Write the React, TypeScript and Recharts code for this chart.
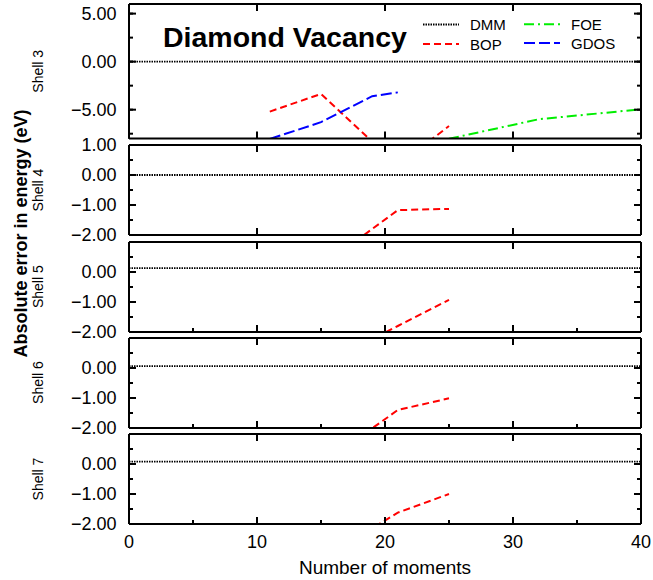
import React from 'react';
import { LineChart, Line, XAxis, YAxis } from 'recharts';

const FONT = '"Liberation Sans", Arial, Helvetica, sans-serif';
const CHART_W = 653;
const PLOT_LEFT = 129;
const PLOT_RIGHT = 641;
const PLOT_W = PLOT_RIGHT - PLOT_LEFT;
const PAD = 14;
const MINOR = 4;
const MAJOR = 7;

// Number of moments at which each method was evaluated
const dmmMoments = [0, 40];
const bopMomentsShell3 = [11, 15, 21, 25];
const gdosMoments = [11, 15, 19, 21];
const foeMoments = [25, 32, 40];
const bopMoments = [17, 21, 25];

// Absolute error in energy (eV)
const dmmErrors = [0, 0, 0.13, 0.06, 0.08]; // shells 3..7
const shell3Bop = [-5.2, -3.36, -10.8, -6.7];
const shell3Gdos = [-8.05, -6.3, -3.6, -3.2];
const shell3Foe = [-8.03, -6.0, -4.96];
const shell4Bop = [-2.43, -1.17, -1.13];
const shell5Bop = [-2.67, -1.8, -0.93];
const shell6Bop = [-2.62, -1.4, -1.01];
const shell7Bop = [-2.67, -1.62, -1.0];

const shellNames = ['Shell 3', 'Shell 4', 'Shell 5', 'Shell 6', 'Shell 7'];

// Axis ticks
const xTicksCoarse = [0, 10, 20, 30, 40];
const xTicksFine = [0, 5, 10, 15, 20, 25, 30, 35, 40];
const xTickLabels = [0, 10, 20, 30, 40];
const shell3YTicks = [-7.5, -5, -2.5, 0, 2.5, 5];
const shell3YLabels = [-5, 0, 5];
const shellYTicks = [-2, -1.5, -1, -0.5, 0, 0.5, 1];
const shell4YLabels = [-2, -1, 0, 1];
const shellYLabels = [-2, -1, 0];

type Style = { stroke: string; dash: string; width: number };
const DMM: Style = { stroke: '#000000', dash: '1.5 1', width: 1.8 };
const BOP: Style = { stroke: '#ff0000', dash: '7 4', width: 2 };
const FOE: Style = { stroke: '#00ee00', dash: '10 4 2 4', width: 2 };
const GDOS: Style = { stroke: '#0000ff', dash: '11 4', width: 2 };

const toPoints = (xs: number[], ys: number[]) => xs.map((m, i) => ({ m, v: ys[i] }));

type Series = { name: string; data: { m: number; v: number }[]; style: Style };
type PanelCfg = {
  name: string;
  top: number;
  height: number;
  domain: [number, number];
  yTicks: number[];
  yLabels: number[];
  yMajor: number;
  xTicks: number[];
  showX: boolean;
  series: Series[];
};

const dmmSeries = (i: number): Series => ({
  name: 'DMM',
  data: toPoints(dmmMoments, [dmmErrors[i], dmmErrors[i]]),
  style: DMM,
});

const panels: PanelCfg[] = [
  {
    name: shellNames[0], top: 4, height: 134.5, domain: [-8, 6],
    yTicks: shell3YTicks, yLabels: shell3YLabels, yMajor: 5, xTicks: xTicksCoarse, showX: false,
    series: [
      dmmSeries(0),
      { name: 'BOP', data: toPoints(bopMomentsShell3, shell3Bop), style: BOP },
      { name: 'FOE', data: toPoints(foeMoments, shell3Foe), style: FOE },
      { name: 'GDOS', data: toPoints(gdosMoments, shell3Gdos), style: GDOS },
    ],
  },
  {
    name: shellNames[1], top: 145, height: 90, domain: [-2, 1],
    yTicks: shellYTicks, yLabels: shell4YLabels, yMajor: 1, xTicks: xTicksCoarse, showX: false,
    series: [dmmSeries(1), { name: 'BOP', data: toPoints(bopMoments, shell4Bop), style: BOP }],
  },
  {
    name: shellNames[2], top: 241.7, height: 90, domain: [-2, 1],
    yTicks: shellYTicks, yLabels: shellYLabels, yMajor: 1, xTicks: xTicksFine, showX: false,
    series: [dmmSeries(2), { name: 'BOP', data: toPoints(bopMoments, shell5Bop), style: BOP }],
  },
  {
    name: shellNames[3], top: 337.5, height: 90, domain: [-2, 1],
    yTicks: shellYTicks, yLabels: shellYLabels, yMajor: 1, xTicks: xTicksFine, showX: false,
    series: [dmmSeries(3), { name: 'BOP', data: toPoints(bopMoments, shell6Bop), style: BOP }],
  },
  {
    name: shellNames[4], top: 434, height: 90, domain: [-2, 1],
    yTicks: shellYTicks, yLabels: shellYLabels, yMajor: 1, xTicks: xTicksFine, showX: true,
    series: [dmmSeries(4), { name: 'BOP', data: toPoints(bopMoments, shell7Bop), style: BOP }],
  },
];

const fmtY = (v: number) => {
  const s = Math.abs(v).toFixed(2);
  return v < 0 ? '\u2212' + s : s;
};

const isMajor = (v: number, step: number) => Math.abs(v / step - Math.round(v / step)) < 1e-6;

const frameLine = { stroke: '#000000', strokeWidth: 2 };

// Labels plus the longer major tick marks on both sides of the frame
function renderYTick(props: any, cfg: PanelCfg) {
  const x = Number(props.x);
  const y = Number(props.y);
  const v = Number(props.payload.value);
  const major = isMajor(v, cfg.yMajor);
  return (
    <g>
      {major && (
        <g>
          <line x1={x} y1={y} x2={x + MAJOR} y2={y} stroke="#000000" strokeWidth={2} />
          <line x1={x + PLOT_W} y1={y} x2={x + PLOT_W - MAJOR} y2={y} stroke="#000000" strokeWidth={2} />
        </g>
      )}
      {cfg.yLabels.includes(v) && (
        <text x={x - 12.5} y={y} textAnchor="end" dominantBaseline="central" fontFamily={FONT} fontSize={18} fill="#000">
          {fmtY(v)}
        </text>
      )}
    </g>
  );
}

function renderXTick(props: any, cfg: PanelCfg) {
  const x = Number(props.x);
  const y = Number(props.y);
  const v = Number(props.payload.value);
  const major = isMajor(v, 10);
  const topY = y - cfg.height;
  return (
    <g>
      {major && (
        <g>
          <line x1={x} y1={y} x2={x} y2={y - MAJOR} stroke="#000000" strokeWidth={2} />
          <line x1={x} y1={topY} x2={x} y2={topY + MAJOR} stroke="#000000" strokeWidth={2} />
        </g>
      )}
      {cfg.showX && xTickLabels.includes(v) && (
        <text x={x} y={y + 23.5} textAnchor="middle" fontFamily={FONT} fontSize={18} fill="#000">
          {String(v)}
        </text>
      )}
    </g>
  );
}

const noLabel = () => <g />;

function Panel({ cfg }: { cfg: PanelCfg }) {
  return (
    <div style={{ position: 'absolute', left: 0, top: cfg.top - PAD }}>
      <LineChart
        width={CHART_W}
        height={cfg.height + 2 * PAD}
        margin={{ top: PAD - 1, right: CHART_W - PLOT_RIGHT - 1, bottom: PAD - 1, left: PLOT_LEFT - 1 }}
      >
        <XAxis
          xAxisId="bottom"
          type="number"
          dataKey="m"
          domain={[0, 40]}
          ticks={cfg.xTicks}
          interval={0}
          height={1}
          tickSize={-MINOR}
          tickMargin={MINOR}
          tickLine={frameLine}
          axisLine={frameLine}
          allowDataOverflow
          tick={(p: any) => renderXTick(p, cfg)}
        />
        <XAxis
          xAxisId="top"
          orientation="top"
          type="number"
          domain={[0, 40]}
          ticks={cfg.xTicks}
          interval={0}
          height={1}
          tickSize={-MINOR}
          tickLine={frameLine}
          tick={noLabel}
          axisLine={frameLine}
          allowDataOverflow
        />
        <YAxis
          yAxisId="left"
          type="number"
          domain={cfg.domain}
          ticks={cfg.yTicks}
          interval={0}
          width={1}
          tickSize={-MINOR}
          tickMargin={MINOR}
          tickLine={frameLine}
          axisLine={frameLine}
          allowDataOverflow
          tick={(p: any) => renderYTick(p, cfg)}
        />
        <YAxis
          yAxisId="right"
          orientation="right"
          type="number"
          domain={cfg.domain}
          ticks={cfg.yTicks}
          interval={0}
          width={1}
          tickSize={-MINOR}
          tickLine={frameLine}
          tick={noLabel}
          axisLine={frameLine}
          allowDataOverflow
        />
        {cfg.series.map((s) => (
          <Line
            key={s.name}
            xAxisId="bottom"
            yAxisId="left"
            name={s.name}
            data={s.data}
            dataKey="v"
            type="linear"
            stroke={s.style.stroke}
            strokeWidth={s.style.width}
            strokeDasharray={s.style.dash}
            dot={false}
            activeDot={false}
            isAnimationActive={false}
          />
        ))}
      </LineChart>
    </div>
  );
}

const legendItems = [
  { name: 'DMM', style: DMM, x: 423, y: 24.5 },
  { name: 'BOP', style: BOP, x: 423, y: 44 },
  { name: 'FOE', style: FOE, x: 524, y: 24.3 },
  { name: 'GDOS', style: GDOS, x: 524, y: 43 },
];

export default function App() {
  return (
    <div style={{ position: 'absolute', left: 0, top: 0, width: CHART_W, height: 580, background: '#fff', fontFamily: FONT }}>
      <style>{'.recharts-surface{overflow:visible}'}</style>
      {panels.map((cfg) => (
        <Panel key={cfg.name} cfg={cfg} />
      ))}
      <svg width={CHART_W} height={580} style={{ position: 'absolute', left: 0, top: 0, pointerEvents: 'none' }}>
        <text x={163} y={46.5} fontFamily={FONT} fontSize={28.5} fontWeight="bold" fill="#000">
          Diamond Vacancy
        </text>
        {legendItems.map((it) => (
          <g key={it.name}>
            <line
              x1={it.x}
              y1={it.y}
              x2={it.x + 36}
              y2={it.y}
              stroke={it.style.stroke}
              strokeWidth={it.style.width}
              strokeDasharray={it.style.dash}
            />
            <text x={it.x + 47} y={it.y} dominantBaseline="central" fontFamily={FONT} fontSize={15} fill="#000">
              {it.name}
            </text>
          </g>
        ))}
        <text
          transform="translate(21,233.5) rotate(-90)"
          textAnchor="middle"
          dominantBaseline="central"
          fontFamily={FONT}
          fontSize={18}
          fontWeight="bold"
          fill="#000"
        >
          Absolute error in energy (eV)
        </text>
        {panels.map((cfg) => (
          <text
            key={cfg.name}
            transform={`translate(38,${cfg.top + cfg.height / 2}) rotate(-90)`}
            textAnchor="middle"
            dominantBaseline="central"
            fontFamily={FONT}
            fontSize={14}
            fill="#000"
          >
            {cfg.name}
          </text>
        ))}
        <text x={385} y={573.5} textAnchor="middle" fontFamily={FONT} fontSize={19} fill="#000">
          Number of moments
        </text>
      </svg>
    </div>
  );
}
